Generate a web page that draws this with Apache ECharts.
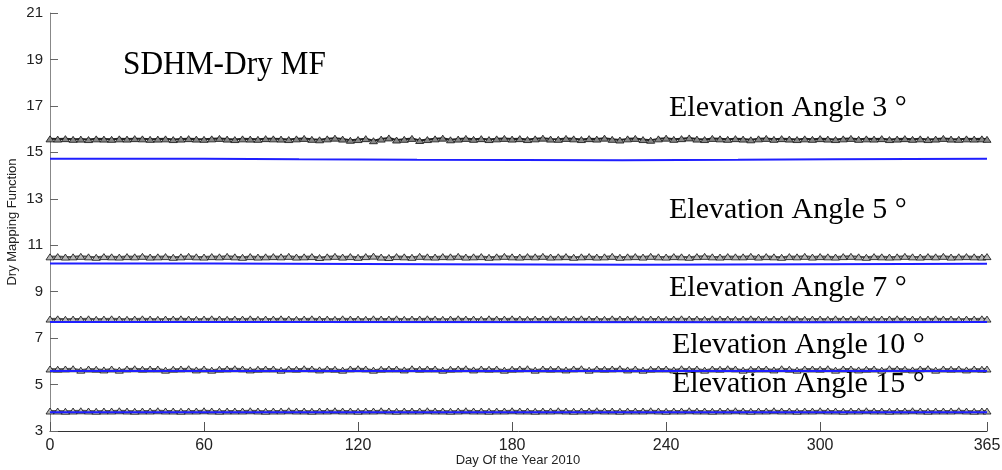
<!DOCTYPE html>
<html>
<head>
<meta charset="utf-8">
<script src="https://cdn.jsdelivr.net/npm/echarts@6/dist/echarts.min.js"></script>
<style>html,body{margin:0;padding:0;background:#fff}#c{width:1002px;height:470px}</style>
</head>
<body>
<div id="c"></div>
<script>
// sample days (every 3 days + last day)
var days = [];
for (var d = 0; d <= 363; d += 3) days.push(d);
days.push(365);

var xTicks = [0, 60, 120, 180, 240, 300, 365];
var yTicks = [3, 5, 7, 9, 11, 13, 15, 17, 19, 21];
var xName = 'Day Of the Year 2010';
var yName = 'Dry Mapping Function';
var title = 'SDHM-Dry MF';

// SDHM (black triangles) values per sampled day
var sdhm3 = [
15.58,15.57,15.59,15.56,15.57,15.55,15.58,15.57,15.56,15.58,
15.57,15.59,15.58,15.56,15.57,15.58,15.55,15.57,15.59,15.57,
15.56,15.58,15.60,15.57,15.55,15.58,15.57,15.56,15.59,15.58,
15.57,15.55,15.58,15.60,15.56,15.54,15.58,15.61,15.57,15.52,
15.55,15.59,15.50,15.57,15.62,15.53,15.56,15.60,15.51,15.55,
15.58,15.61,15.54,15.57,15.60,15.56,15.59,15.55,15.58,15.60,
15.57,15.59,15.55,15.58,15.61,15.57,15.56,15.60,15.58,15.55,
15.59,15.57,15.61,15.56,15.53,15.58,15.60,15.55,15.52,15.58,
15.61,15.56,15.59,15.62,15.57,15.55,15.60,15.58,15.56,15.59,
15.57,15.54,15.58,15.60,15.56,15.59,15.57,15.55,15.58,15.56,
15.59,15.57,15.55,15.58,15.60,15.56,15.58,15.57,15.59,15.55,
15.57,15.59,15.56,15.58,15.55,15.57,15.60,15.57,15.56,15.58,
15.57,15.58,15.56];
var sdhm5 = [
10.50,10.51,10.49,10.50,10.52,10.50,10.48,10.51,10.50,10.49,
10.51,10.50,10.52,10.49,10.50,10.51,10.48,10.50,10.52,10.50,
10.49,10.51,10.50,10.52,10.50,10.48,10.51,10.49,10.50,10.51,
10.50,10.52,10.49,10.50,10.51,10.47,10.50,10.52,10.49,10.51,
10.48,10.51,10.53,10.49,10.47,10.51,10.50,10.48,10.52,10.50,
10.49,10.51,10.50,10.52,10.49,10.50,10.51,10.48,10.50,10.52,
10.50,10.49,10.51,10.50,10.52,10.49,10.50,10.51,10.48,10.50,
10.51,10.49,10.50,10.52,10.48,10.50,10.51,10.49,10.52,10.50,
10.49,10.51,10.50,10.48,10.51,10.52,10.50,10.49,10.51,10.50,
10.50,10.52,10.49,10.51,10.50,10.48,10.51,10.50,10.52,10.49,
10.51,10.50,10.49,10.51,10.52,10.50,10.48,10.51,10.50,10.49,
10.50,10.52,10.50,10.49,10.51,10.50,10.52,10.49,10.50,10.51,
10.50,10.49,10.51];
var sdhm7 = [
7.82,7.83,7.81,7.82,7.82,7.83,7.81,7.82,7.83,7.82,
7.81,7.82,7.83,7.82,7.81,7.82,7.82,7.83,7.82,7.81,
7.82,7.83,7.82,7.81,7.82,7.82,7.83,7.81,7.82,7.82,
7.83,7.82,7.81,7.82,7.83,7.82,7.82,7.81,7.83,7.82,
7.82,7.81,7.83,7.82,7.82,7.83,7.81,7.82,7.82,7.83,
7.82,7.81,7.82,7.83,7.82,7.82,7.81,7.83,7.82,7.82,
7.83,7.82,7.81,7.82,7.82,7.83,7.82,7.81,7.82,7.83,
7.82,7.82,7.81,7.83,7.82,7.82,7.83,7.81,7.82,7.82,
7.81,7.82,7.83,7.82,7.82,7.81,7.83,7.82,7.82,7.81,
7.82,7.83,7.82,7.81,7.82,7.82,7.83,7.82,7.81,7.82,
7.82,7.81,7.83,7.82,7.82,7.83,7.82,7.81,7.82,7.82,
7.83,7.82,7.82,7.81,7.82,7.83,7.82,7.82,7.81,7.82,
7.82,7.83,7.82];
var sdhm10 = [
5.67,5.66,5.67,5.68,5.62,5.67,5.66,5.63,5.67,5.62,
5.67,5.68,5.66,5.67,5.67,5.62,5.66,5.67,5.68,5.63,
5.67,5.62,5.66,5.67,5.68,5.67,5.63,5.66,5.67,5.67,
5.62,5.67,5.66,5.68,5.67,5.63,5.67,5.66,5.62,5.67,
5.68,5.67,5.62,5.66,5.67,5.67,5.63,5.68,5.66,5.67,
5.67,5.62,5.66,5.67,5.68,5.63,5.67,5.66,5.67,5.62,
5.66,5.67,5.68,5.62,5.67,5.66,5.67,5.63,5.67,5.68,
5.62,5.67,5.66,5.67,5.68,5.63,5.67,5.62,5.66,5.67,
5.67,5.63,5.68,5.66,5.67,5.62,5.67,5.66,5.68,5.67,
5.62,5.66,5.67,5.67,5.63,5.68,5.66,5.62,5.67,5.67,
5.66,5.68,5.62,5.67,5.67,5.63,5.66,5.67,5.62,5.68,
5.67,5.66,5.63,5.67,5.68,5.62,5.67,5.66,5.67,5.63,
5.67,5.66,5.67];
var sdhm15 = [
3.86,3.86,3.85,3.86,3.87,3.86,3.85,3.86,3.86,3.87,
3.86,3.85,3.86,3.86,3.87,3.86,3.86,3.85,3.86,3.86,
3.87,3.86,3.85,3.86,3.86,3.86,3.87,3.86,3.85,3.86,
3.86,3.87,3.86,3.86,3.85,3.86,3.86,3.87,3.86,3.86,
3.85,3.86,3.86,3.87,3.86,3.85,3.86,3.86,3.86,3.87,
3.86,3.86,3.85,3.86,3.87,3.86,3.86,3.85,3.86,3.86,
3.87,3.86,3.86,3.85,3.86,3.86,3.87,3.86,3.85,3.86,
3.86,3.87,3.86,3.86,3.85,3.86,3.86,3.86,3.87,3.86,
3.85,3.86,3.86,3.87,3.86,3.86,3.85,3.86,3.86,3.87,
3.86,3.85,3.86,3.86,3.87,3.86,3.86,3.85,3.86,3.86,
3.87,3.86,3.86,3.85,3.86,3.86,3.87,3.86,3.86,3.85,
3.86,3.86,3.87,3.86,3.85,3.86,3.86,3.86,3.87,3.86,
3.85,3.86,3.86];

// reference MF (blue), piecewise levels read as [day, value]
var ref3 = [[0,14.72],[60,14.72],[60,14.70],[97,14.70],[97,14.68],[143,14.68],[143,14.66],[223,14.66],[223,14.68],[268,14.68],[268,14.70],[305,14.70],[305,14.72],[365,14.72]];
var ref5 = [[0,10.21],[64,10.21],[64,10.18],[150,10.18],[150,10.16],[230,10.16],[230,10.18],[300,10.18],[300,10.20],[365,10.20]];
var ref7 = [[0,7.69],[90,7.69],[90,7.68],[300,7.68],[300,7.69],[365,7.69]];
var ref10 = [[0,5.58],[365,5.58]];
var ref15 = [[0,3.81],[365,3.81]];

var labels = [
  {text: 'Elevation Angle 3 °', x: 669, y: 108},
  {text: 'Elevation Angle 5 °', x: 669, y: 210},
  {text: 'Elevation Angle 7 °', x: 669, y: 288},
  {text: 'Elevation Angle 10 °', x: 672, y: 345},
  {text: 'Elevation Angle 15 °', x: 672, y: 384}
];

function pairs(vals) { return vals.map(function (v, i) { return [days[i], v]; }); }

var blackSeries = [sdhm3, sdhm5, sdhm7, sdhm10, sdhm15].map(function (arr, k) {
  return {
    type: 'line', data: pairs(arr), symbol: 'triangle', symbolSize: [8, 6], showSymbol: true,
    showAllSymbol: true,
    lineStyle: {color: k === 0 ? '#222' : '#555', width: 2},
    itemStyle: {color: k === 0 ? '#888' : '#b8b8b8', borderColor: '#111', borderWidth: 0.8},
    silent: true, animation: false, z: 2
  };
});
var blueSeries = [ref3, ref5, ref7, ref10, ref15].map(function (arr) {
  return {
    type: 'line', data: arr, showSymbol: false,
    lineStyle: {color: '#1f1fff', width: 2},
    silent: true, animation: false, z: 3
  };
});

var chart = echarts.init(document.getElementById('c'), null, {renderer: 'canvas'});
chart.setOption({
  animation: false,
  backgroundColor: '#fff',
  grid: {left: 50, right: 15, top: 13, bottom: 39, containLabel: false, outerBoundsMode: 'none'},
  xAxis: {
    type: 'value', min: 0, max: 365,
    axisLine: {show: true, lineStyle: {color: '#333', width: 1}},
    axisTick: {show: true, inside: true, length: 9, customValues: xTicks, lineStyle: {color: '#555'}},
    axisLabel: {customValues: xTicks, fontFamily: 'Liberation Sans, Arial', fontSize: 16, color: '#222', margin: 7},
    splitLine: {show: false}
  },
  yAxis: {
    type: 'value', min: 3, max: 21,
    axisLine: {show: true, lineStyle: {color: '#888', width: 1}},
    axisTick: {show: true, inside: true, length: 8, customValues: yTicks, lineStyle: {color: '#666'}},
    axisLabel: {customValues: yTicks, fontFamily: 'Liberation Sans, Arial', fontSize: 15, color: '#222', margin: 7},
    splitLine: {show: false}
  },
  series: blackSeries.concat(blueSeries),
  graphic: [
    {type: 'text', x: 123, y: 65, z: 10, scaleX: 0.95, scaleY: 1.05,
     style: {text: title, font: '33px "Liberation Serif", "Times New Roman", serif', fill: '#000', textVerticalAlign: 'middle'}},
    {type: 'text', x: 518, y: 460, z: 10,
     style: {text: xName, font: '13px "Liberation Sans", Arial, sans-serif', fill: '#222', textAlign: 'center', textVerticalAlign: 'middle'}},
    {type: 'text', x: 12, y: 222, z: 10, rotation: Math.PI / 2,
     style: {text: yName, font: '13px "Liberation Sans", Arial, sans-serif', fill: '#222', textAlign: 'center', textVerticalAlign: 'middle'}}
  ].concat(labels.map(function (l) {
    return {type: 'text', x: l.x, y: l.y, z: 10,
      style: {text: l.text, font: '30px "Liberation Serif", "Times New Roman", serif', fill: '#000', textVerticalAlign: 'middle'}};
  }))
});
</script>
</body>
</html>
